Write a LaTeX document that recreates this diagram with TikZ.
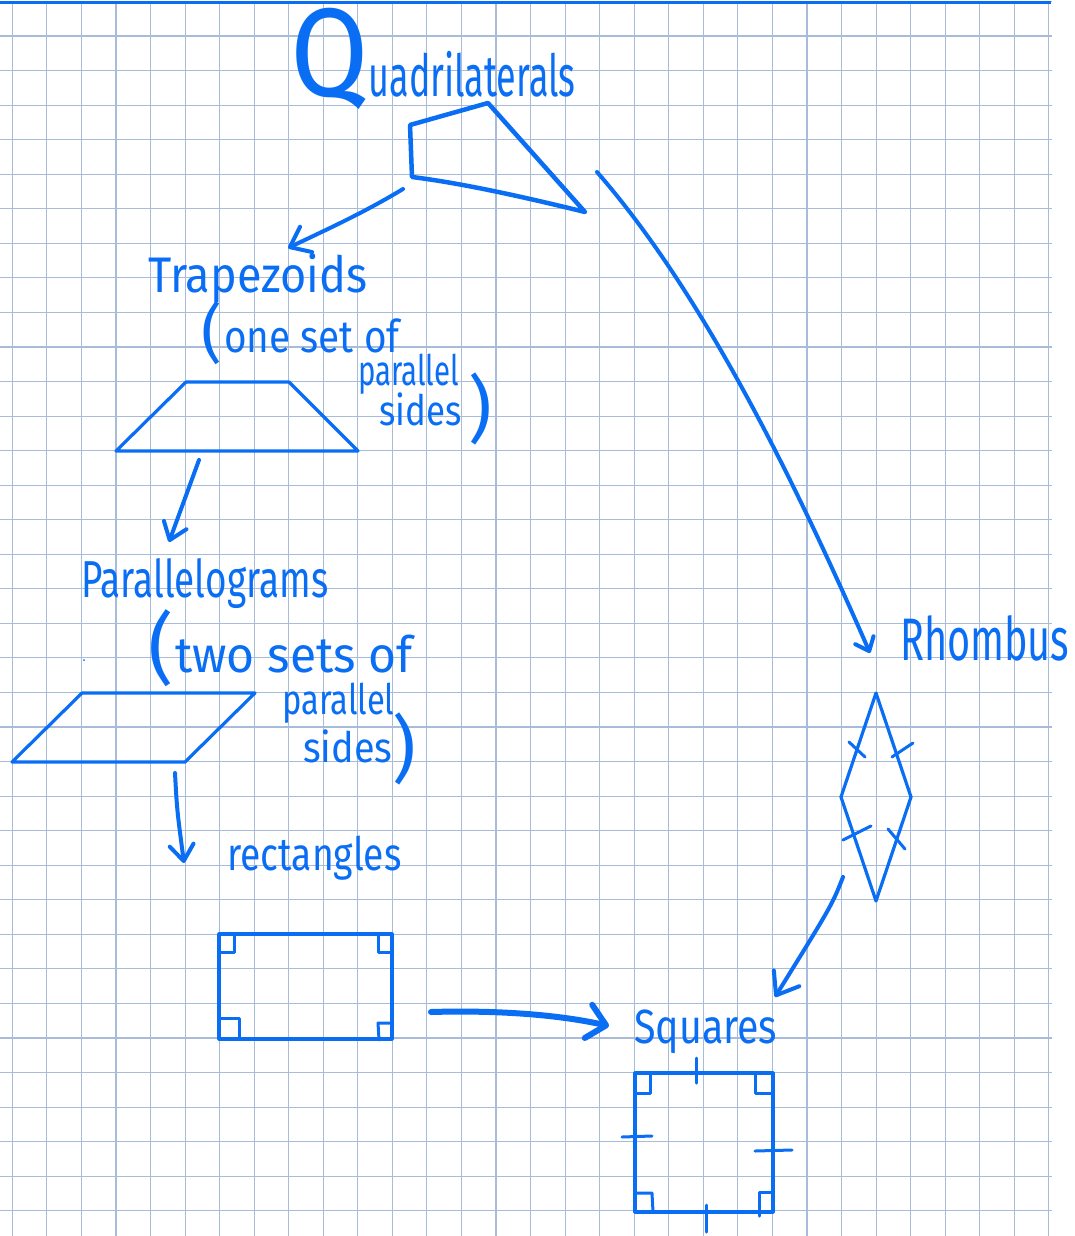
\documentclass[tikz,border=0pt]{standalone}
\usepackage{fontspec}
\setmainfont{Fira Sans}
\usepackage{graphicx}
\usetikzlibrary{arrows.meta}
\definecolor{penblu}{RGB}{10,110,245}
\definecolor{quadretti}{RGB}{168,188,218}

\begin{document}
\begin{tikzpicture}[x=1pt, y=-1pt,
  penna/.style={draw=penblu, line width=3.2pt, line join=round, line cap=round},
  segno/.style={penna, line width=3pt},
  freccia/.style={penna, line width=4pt, -{Straight Barb[round, length=16pt, width=24pt]}},
  scritta/.style={text=penblu, inner sep=0pt, anchor=base west}]

  % Foglio a quadretti
  \fill[white] (0,0) rectangle (1074,1236);
  \useasboundingbox (0,0) rectangle (1074,1236);
  \begin{scope}[shift={(12.3,1.45)}]
    \draw[quadretti, line width=1.1pt, step=34.55pt] (-12.3,0) grid (1040,1234.55);
  \end{scope}
  \draw[penblu, line width=2.5pt] (0,2.3) -- (1051,2.3);

  % Titolo e quadrilatero generico
  \node[scritta] (titolo) at (290,97) {\scalebox{0.9}[1]{\fontsize{126}{126}\selectfont Q}\scalebox{0.62}[1]{\fontsize{58}{58}\selectfont uadrilaterals}};
  \draw[penna, line width=4.5pt] (410,125) -- (488,103) -- (585,212) .. controls (520,196) and (460,183) .. (412,177) -- cycle;

  % Trapezi
  \node[scritta, xscale=0.9, font=\fontsize{50}{50}\selectfont] (trap) at (148,292) {Trapezoids};
  \node[scritta, font=\fontsize{64}{64}\selectfont] (trapaperta) at (201,355) {(};
  \node[scritta, xscale=0.86, font=\fontsize{45}{45}\selectfont] (trapnota) at (224,352) {one set of};
  \node[scritta, xscale=0.7, font=\fontsize{42}{42}\selectfont] (trappar) at (358,385) {parallel};
  \node[scritta, xscale=0.83, font=\fontsize{42}{42}\selectfont] (traplati) at (379,425) {sides};
  \node[scritta, font=\fontsize{73}{73}\selectfont] (trapchiusa) at (468,434) {)};
  \draw[penna] (116,451) -- (186,382) -- (289,382) -- (358,451) -- cycle;

  % Parallelogrammi
  \node[scritta, xscale=0.71, font=\fontsize{52}{52}\selectfont] (para) at (81,597) {Parallelograms};
  \node[scritta, font=\fontsize{78}{78}\selectfont] (paraaperta) at (148,675) {(};
  \node[scritta, xscale=0.96, font=\fontsize{50}{50}\selectfont] (paranota) at (175,672) {two sets of};
  \node[scritta, xscale=0.78, font=\fontsize{42}{42}\selectfont] (parapar) at (282,714) {parallel};
  \node[scritta, xscale=0.9, font=\fontsize{42}{42}\selectfont] (paralati) at (303,762) {sides};
  \node[scritta, font=\fontsize{73}{73}\selectfont] (parachiusa) at (392,774) {)};
  \fill[penblu] (84,660) circle (1pt);
  \draw[penna] (12,762) -- (82,693) -- (255,693) -- (185,762) -- cycle;

  % Rettangoli
  \node[scritta, xscale=0.81, font=\fontsize{46}{46}\selectfont] (rett) at (227,870) {rectangles};
  \draw[penna] (219,934) rectangle (392,1039);
  \draw[segno] (220,952) -- (234,952) -- (234,934);
  \draw[segno] (378,934) -- (378,952) -- (392,952);
  \draw[segno] (219,1018) -- (239,1018) -- (239,1039);
  \draw[segno] (392,1023) -- (378,1023) -- (379,1040);

  % Rombo
  \node[scritta, xscale=0.66, font=\fontsize{60}{60}\selectfont] (rombo) at (900,660) {Rhombus};
  \draw[penna] (876,693) -- (911,797) -- (876,901) -- (841,797) -- cycle;
  \draw[segno] (849,742) -- (865,757);
  \draw[segno] (892,757) -- (913,743);
  \draw[segno] (843,840) -- (871,826);
  \draw[segno] (888,829) -- (905,849);

  % Quadrati
  \node[scritta, xscale=0.82, font=\fontsize{48}{48}\selectfont] (quadr) at (634,1043) {Squares};
  \draw[penna] (635,1073) rectangle (773,1212);
  \draw[segno] (635,1093) -- (650,1093) -- (650,1073);
  \draw[segno] (755,1073) -- (755,1093) -- (773,1093);
  \draw[segno] (635,1193) -- (652,1193) -- (653,1212);
  \draw[segno] (773,1192) -- (759,1192) -- (759,1216);
  \draw[segno] (696,1058) -- (696,1083);
  \draw[segno] (622,1137) -- (652,1136);
  \draw[segno] (755,1151) -- (792,1150);
  \draw[segno] (706,1205) -- (706,1232);

  % Frecce
  \coordinate (quadSx) at (403,189);
  \coordinate (trapSu) at (288,248);
  \coordinate (trapGiu) at (199,460);
  \coordinate (paraSu) at (169,542);
  \coordinate (paraGiu) at (175,773);
  \coordinate (rettSu) at (184,863);
  \coordinate (rettDx) at (431,1012);
  \coordinate (quadrSx) at (609,1026);
  \coordinate (quadDx) at (597,172);
  \coordinate (romboSu) at (870,653);
  \coordinate (romboGiu) at (843,877);
  \coordinate (quadrSu) at (775,997);

  \draw[freccia, -{Straight Barb[round, length=18pt, width=28pt]}] (quadSx) .. controls (365,212) and (330,228) .. (trapSu);
  \draw[freccia] (trapGiu) -- (paraSu);
  \draw[freccia] (paraGiu) .. controls (177,810) .. (rettSu);
  \draw[freccia, line width=6pt, -{Straight Barb[round, length=18pt, width=34pt]}] (rettDx) .. controls (500,1010) and (560,1015) .. (quadrSx);
  \draw[freccia, -{Straight Barb[round, length=12pt, width=20pt]}] (quadDx) .. controls (700,290) and (790,470) .. (romboSu);
  \draw[freccia, -{Straight Barb[round, length=20pt, width=30pt]}] (romboGiu) .. controls (832,905) .. (quadrSu);

\end{tikzpicture}
\end{document}
